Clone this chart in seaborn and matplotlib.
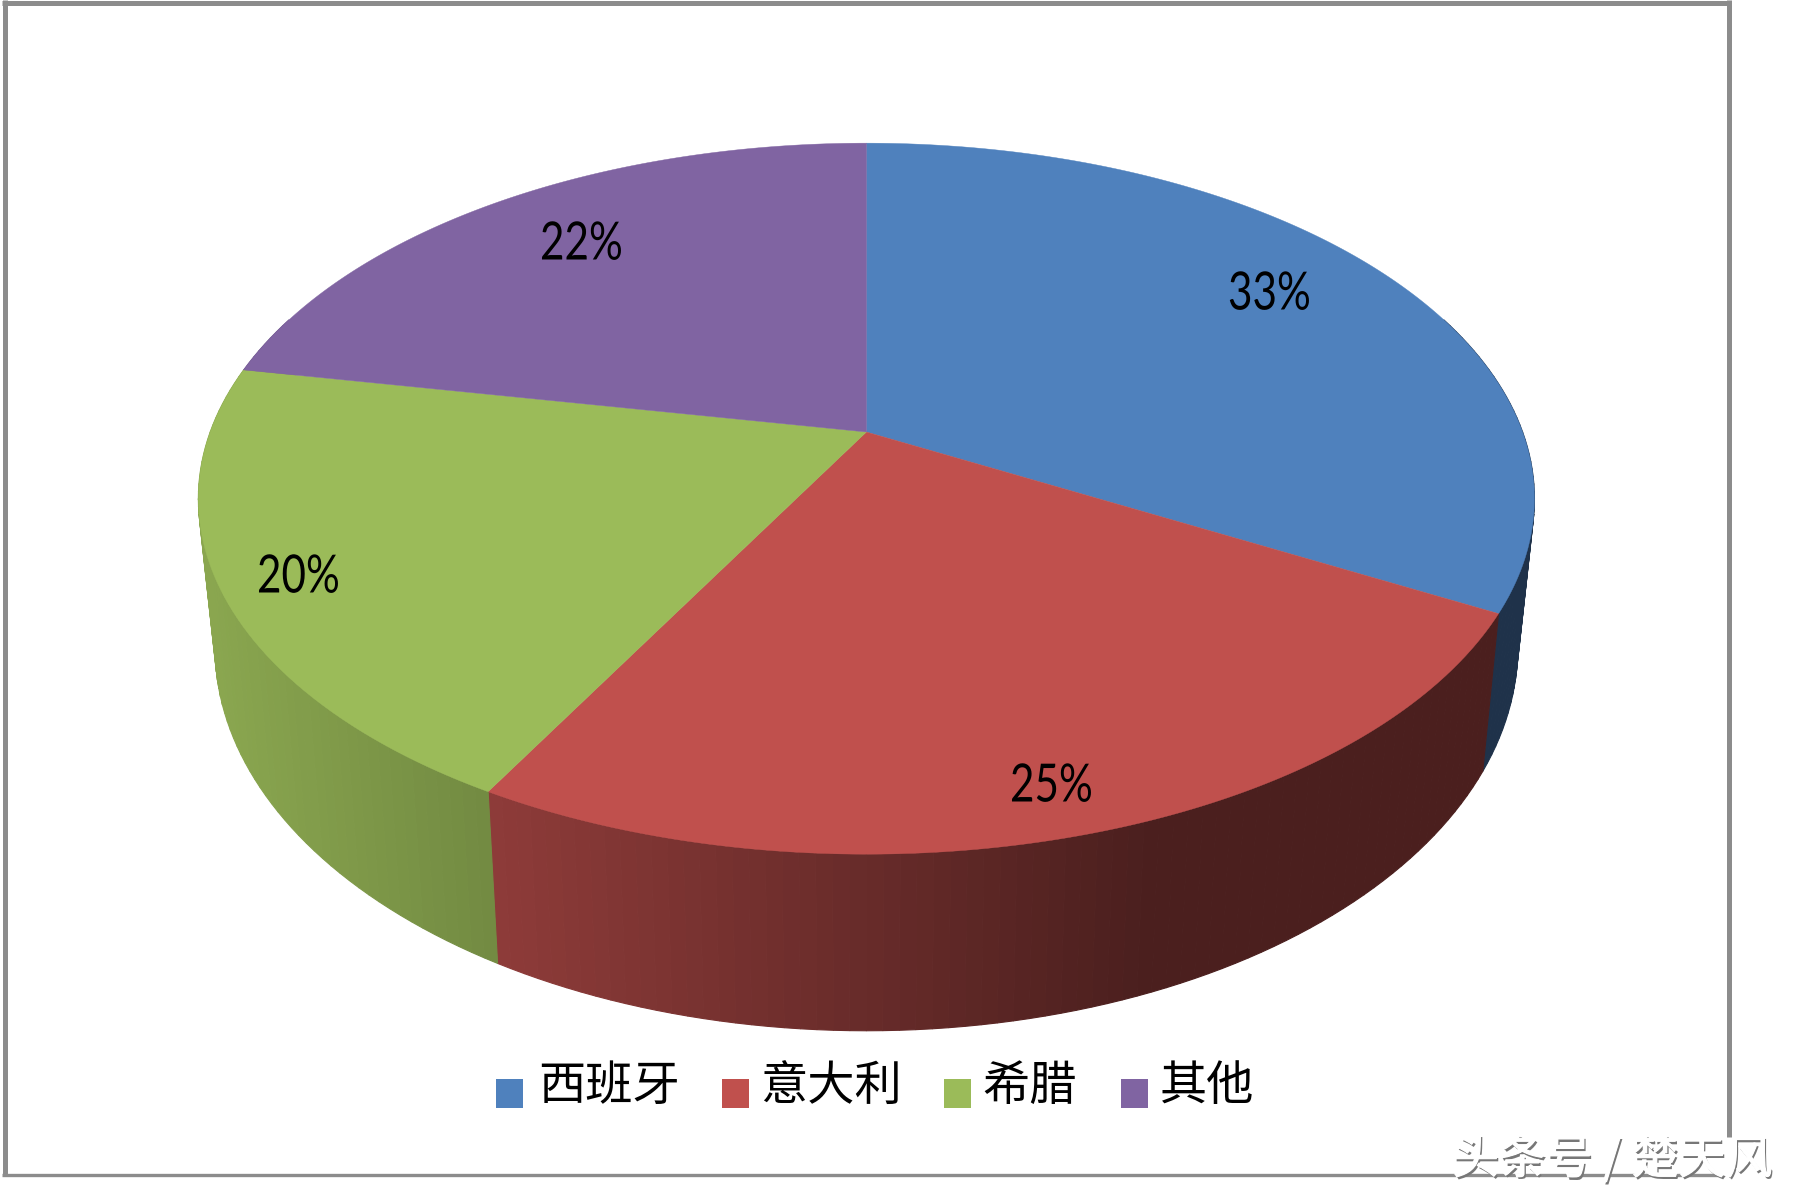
import numpy as np
import matplotlib
matplotlib.use('Agg')
import matplotlib.pyplot as plt
import matplotlib.patheffects as pe
from matplotlib.patches import Rectangle
from matplotlib.transforms import Affine2D
import seaborn as sns

# ---- data ----
countries = ['西班牙', '意大利', '希腊', '其他']
shares = [33, 25, 20, 22]
slice_colors = ['#4F81BD', '#C0504D', '#9BBB59', '#8064A2']

# ---- layout, in pixels of the 1797x1198 picture ----
CX, CY = 866.4, 432.0      # pie apex
RX, RY = 656.2, 343.0      # radii before perspective
PERSP = 0.1875             # perspective strength
DEPTH = 143.5              # side wall height (before perspective)
BOTTOM_SCALE = 0.975       # bottom rim is a bit narrower than the top
label_x = [1228, 1010, 257, 540]
label_y = [295, 787, 578, 245]
legend_box_x = [496, 722, 944, 1121]
legend_text_x = [538, 760, 982, 1160]
FRAME = '#8C8C8C'

sns.set_style('white')
plt.rcParams['font.family'] = ['Noto Sans CJK SC', 'DejaVu Sans']
palette = sns.color_palette(slice_colors)


class Squeeze(pe.AbstractPathEffect):
    """Narrows text towards its left end, the picture's digits are stretched tall."""
    def __init__(self, sx):
        self.sx = sx

    def draw_path(self, renderer, gc, tpath, affine, rgbFace=None):
        renderer.draw_path(gc, tpath, Affine2D().scale(self.sx, 1) + affine, rgbFace)


def rim(theta):
    # theta runs clockwise from 12 o'clock, returns screen x, y of the top rim
    x, y = np.sin(theta), np.cos(theta)
    w = 1 + PERSP * y
    return CX + RX * x / w, CY - RY * y / w, w


def rim_bottom(theta):
    xt, yt, w = rim(theta)
    return CX + (xt - CX) * BOTTOM_SCALE, yt + DEPTH / w


def side_shade(x):
    # lighting on the wall falls off from left to right, then stays flat
    return np.clip(0.74 - 0.00053 * (x - 488), 0.39, 0.89)


fig = plt.figure(figsize=(17.97, 11.98), dpi=100, facecolor='white')
ax = fig.add_axes([0, 0, 1, 1])
ax.set_xlim(0, 1797)
ax.set_ylim(1198, 0)
ax.axis('off')

# chart frame
ax.plot([4.5, 4.5], [0, 1175], color=FRAME, lw=3.6, solid_capstyle='butt')
ax.plot([2, 1731], [2.5, 2.5], color=FRAME, lw=3.6, solid_capstyle='butt')
ax.plot([1728.5, 1728.5], [0, 1137], color=FRAME, lw=3.6, solid_capstyle='butt')
ax.plot([2, 1722], [1175, 1175], color=FRAME, lw=2.4, solid_capstyle='butt')

edges = 2 * np.pi * np.cumsum([0] + shares) / sum(shares)

# side wall first, the top face goes over it
for i, color in enumerate(palette):
    n = max(int(shares[i] * 3), 2)
    ts = np.linspace(edges[i], edges[i + 1], n + 1)
    for t0, t1 in zip(ts[:-1], ts[1:]):
        if np.cos(0.5 * (t0 + t1)) > 0.35:
            continue
        x0, y0, _ = rim(t0)
        x1, y1, _ = rim(t1)
        bx0, by0 = rim_bottom(t0)
        bx1, by1 = rim_bottom(t1)
        shade = side_shade(0.5 * (x0 + x1))
        c = tuple(v * shade for v in color)
        ax.fill([x0, x1, bx1, bx0], [y0, y1, by1, by0], color=c, lw=0.8, zorder=2)

# top face
for i, color in enumerate(palette):
    ts = np.linspace(edges[i], edges[i + 1], 200)
    xs, ys, _ = rim(ts)
    ax.fill(np.r_[CX, xs], np.r_[CY, ys], color=color, lw=0.3, zorder=3)

# percent labels
for v, x, y in zip(shares, label_x, label_y):
    ax.text(x, y, f'{v}%', ha='left', va='center', fontsize=38, color='black',
            family=['Lato', 'DejaVu Sans'], zorder=5,
            path_effects=[Squeeze(0.8)])

# legend
for name, color, bx, tx in zip(countries, palette, legend_box_x, legend_text_x):
    ax.add_patch(Rectangle((bx, 1079), 27, 29, facecolor=color, edgecolor='none', zorder=5))
    ax.text(tx, 1087, name, ha='left', va='center', fontsize=34, color='black', zorder=5)

# watermark
ax.text(1614, 1162, '头条号 / 楚天风', ha='center', va='center', fontsize=33.7,
        color='#777777', zorder=6)
ax.text(1612, 1160, '头条号 / 楚天风', ha='center', va='center', fontsize=33.7,
        color='white', zorder=7,
        path_effects=[pe.withStroke(linewidth=0.8, foreground='white')])

fig.savefig('out.png', dpi=100, facecolor='white')
